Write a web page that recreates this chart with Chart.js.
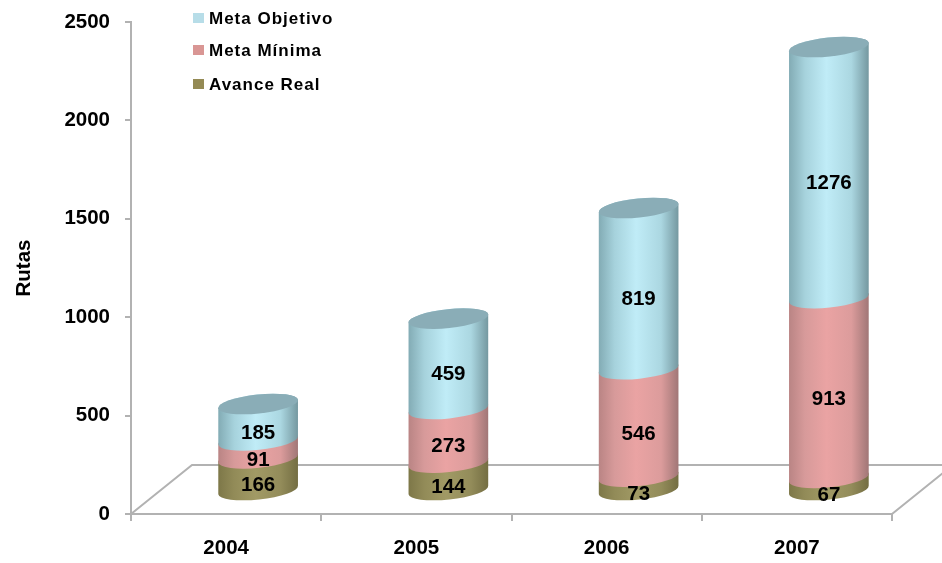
<!DOCTYPE html>
<html>
<head>
<meta charset="utf-8">
<title>Rutas</title>
<script src="https://cdn.jsdelivr.net/npm/chart.js@4"></script>
<style>
  html, body { margin: 0; padding: 0; background: #fff; }
  #wrap { position: relative; width: 942px; height: 563px; overflow: hidden; }
  #legend { position: absolute; left: 193px; top: 0; font: bold 17px "Liberation Sans", Arial, sans-serif; letter-spacing: 1px; color: #000; }
  #legend div { position: absolute; left: 0; height: 20px; line-height: 20px; white-space: nowrap; padding-left: 16px; }
  #legend i { position: absolute; left: 0; top: 4px; width: 11px; height: 10px; }
</style>
</head>
<body>
<div id="wrap">
  <canvas id="chart" width="942" height="563"></canvas>
  <div id="legend"></div>
</div>
<script>
const years = ["2004", "2005", "2006", "2007"];
const avanceReal = [166, 144, 73, 67];
const metaMinima = [91, 273, 546, 913];
const metaObjetivo = [185, 459, 819, 1276];

const FONT = '"Liberation Sans", Arial, sans-serif';
const AXIS = "#b2b2b2";
// left edge, shoulder, highlight, shoulder, right edge
const SHADES = [
  ["#7d7748", "#928b58", "#a19a65", "#938c5a", "#736d42"],
  ["#b98484", "#d79a9a", "#eaa3a3", "#dc9c9c", "#a07676"],
  ["#82abb4", "#a6d2dc", "#c0ecf7", "#abd7e1", "#74979f"],
];
const TOP_CAP = "#8aadb7";

// 3D look: bars sit back on the floor, up and to the right of the axis plane
const DEPTH_X = 32, DEPTH_Y = -23;
const ELL_B = 9.5, ELL_ROT = -6 * Math.PI / 180;

function shade(ctx, left, right, c) {
  const g = ctx.createLinearGradient(left, 0, right, 0);
  [0, 0.2, 0.47, 0.78, 1].forEach((p, i) => g.addColorStop(p, c[i]));
  return g;
}

const floorPlugin = {
  id: "floor",
  beforeDatasetsDraw(chart) {
    const { ctx, chartArea: a } = chart;
    const backY = a.bottom - 49;
    ctx.save();
    ctx.strokeStyle = AXIS;
    ctx.lineWidth = 2;
    ctx.beginPath();
    ctx.moveTo(a.left, a.bottom);
    ctx.lineTo(a.left + 61, backY);
    ctx.lineTo(chart.width, backY);
    ctx.moveTo(a.right, a.bottom);
    ctx.lineTo(a.right + 61, backY);
    ctx.stroke();
    ctx.restore();
  },
};

const cylinderPlugin = {
  id: "cylinders",
  afterDatasetsDraw(chart) {
    const ctx = chart.ctx;
    const n = chart.data.datasets.length;
    ctx.save();
    // bottom segment first, so each upper one laps over the one below
    for (let d = 0; d < n; d++) {
      chart.getDatasetMeta(d).data.forEach((bar) => {
        const cx = bar.x + DEPTH_X, r = bar.width / 2;
        const top = bar.y + DEPTH_Y, base = bar.base + DEPTH_Y;
        ctx.beginPath();
        ctx.ellipse(cx, base, r, ELL_B, ELL_ROT, 0, Math.PI);
        ctx.ellipse(cx, top, r, ELL_B, ELL_ROT, Math.PI, 0);
        ctx.closePath();
        ctx.fillStyle = shade(ctx, cx - r, cx + r, SHADES[d]);
        ctx.fill();
        if (d === n - 1) {
          ctx.beginPath();
          ctx.ellipse(cx, top, r, ELL_B, ELL_ROT, 0, Math.PI * 2);
          ctx.fillStyle = TOP_CAP;
          ctx.fill();
        }
      });
    }
    // value labels
    ctx.fillStyle = "#000";
    ctx.font = "bold 20.5px " + FONT;
    ctx.textAlign = "center";
    ctx.textBaseline = "middle";
    for (let d = 0; d < n; d++) {
      chart.getDatasetMeta(d).data.forEach((bar, i) => {
        ctx.fillText(chart.data.datasets[d].data[i], bar.x + 32, (bar.y + bar.base) / 2 - 12);
      });
    }
    ctx.restore();
  },
};

Chart.defaults.font.family = FONT;
Chart.defaults.color = "#000";

new Chart(document.getElementById("chart"), {
  type: "bar",
  data: {
    labels: years,
    datasets: [
      { label: "Avance Real", data: avanceReal, backgroundColor: "transparent" },
      { label: "Meta Mínima", data: metaMinima, backgroundColor: "transparent" },
      { label: "Meta Objetivo", data: metaObjetivo, backgroundColor: "transparent" },
    ],
  },
  options: {
    responsive: false,
    animation: false,
    barPercentage: 80 / 190,
    categoryPercentage: 1,
    layout: { padding: { top: 22, right: 50, left: 0, bottom: 0 } },
    plugins: { legend: { display: false }, tooltip: { enabled: false } },
    scales: {
      x: {
        stacked: true,
        afterFit: (s) => { s.height = 49; s.paddingLeft = 0; s.paddingRight = 0; },
        grid: { drawOnChartArea: false, color: AXIS, lineWidth: 2, tickLength: 7, offset: true },
        border: { color: AXIS, width: 2 },
        ticks: { font: { size: 20.5, weight: "bold" }, padding: 15, maxRotation: 0 },
      },
      y: {
        stacked: true,
        min: 0,
        max: 2500,
        afterFit: (s) => { s.width = 131; s.paddingTop = 0; s.paddingBottom = 0; },
        grid: { drawOnChartArea: false, color: AXIS, lineWidth: 2, tickLength: 6 },
        border: { color: AXIS, width: 2 },
        ticks: { stepSize: 500, font: { size: 20.5, weight: "bold" }, padding: 15, callback: (v) => String(v) },
        title: { display: true, text: "Rutas", font: { size: 20.5, weight: "bold" }, padding: { top: 12, bottom: 0 } },
      },
    },
  },
  plugins: [floorPlugin, cylinderPlugin],
});

// legend: same order as the reference, top to bottom
const legendItems = [
  ["Meta Objetivo", "#b7dde8", 9],
  ["Meta Mínima", "#d99694", 41],
  ["Avance Real", "#948a54", 75],
];
document.getElementById("legend").innerHTML = legendItems
  .map((l) => `<div style="top:${l[2]}px"><i style="background:${l[1]}"></i>${l[0]}</div>`)
  .join("");
</script>
</body>
</html>
